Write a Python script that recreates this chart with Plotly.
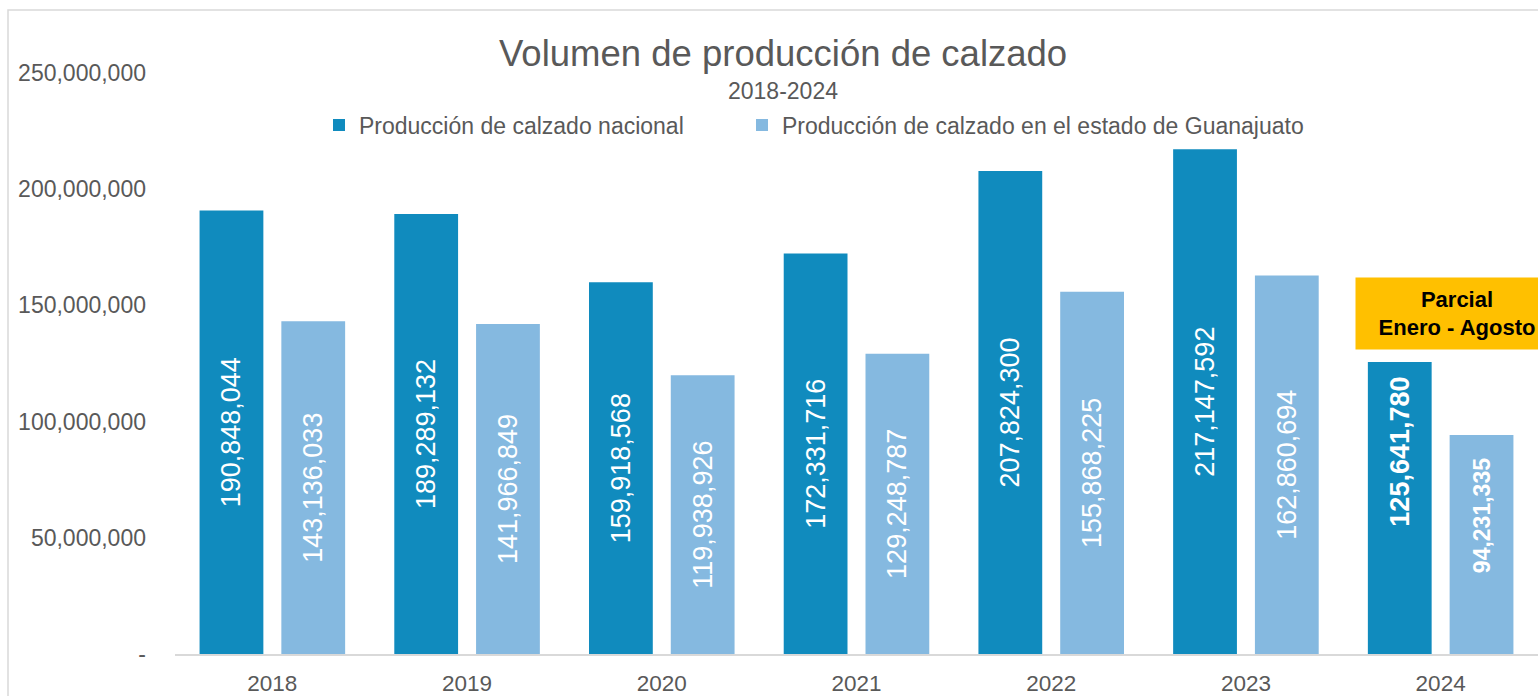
import plotly.graph_objects as go

years = ["2018", "2019", "2020", "2021", "2022", "2023", "2024"]
nacional = [190848044, 189289132, 159918568, 172331716, 207824300, 217147592, 125641780]
guanajuato = [143136033, 141966849, 119938926, 129248787, 155868225, 162860694, 94231335]
y_tickvals = [0, 50000000, 100000000, 150000000, 200000000, 250000000]
y_ticktext = ["-", "50,000,000", "100,000,000", "150,000,000", "200,000,000", "250,000,000"]

name_nac = "Producción de calzado nacional"
name_gto = "Producción de calzado en el estado de Guanajuato"

DARK = "#108BBE"
LIGHT = "#85B9E0"
GRAY = "#595959"
FONT = "Liberation Sans"

def fmt(v):
    return f"{v:,}"

# last category (partial year) labelled separately near the bar top
pos = ["inside"] * (len(years) - 1) + ["none"]
last = len(years) - 1

fig = go.Figure()
fig.add_trace(go.Bar(
    x=years, y=nacional, name=name_nac, marker=dict(color=DARK, line=dict(width=0)),
    text=[fmt(v) for v in nacional], textposition=pos, insidetextanchor="middle",
    textangle=-90, textfont=dict(color="white", size=27, family=FONT),
    hoverinfo="skip", legend="legend",
))
fig.add_trace(go.Bar(
    x=years, y=guanajuato, name=name_gto, marker=dict(color=LIGHT, line=dict(width=0)),
    text=[fmt(v) for v in guanajuato], textposition=pos, insidetextanchor="middle",
    textangle=-90, textfont=dict(color="white", size=27, family=FONT),
    hoverinfo="skip", legend="legend2",
))

annotations = [
    dict(text="Volumen de producción de calzado", xref="paper", yref="paper",
         x=(783 - 175) / 1363, y=(654 - 54) / 581, xanchor="center", yanchor="middle",
         showarrow=False, font=dict(size=36.5, color=GRAY, family=FONT)),
    dict(text="2018-2024", xref="paper", yref="paper",
         x=(783 - 175) / 1363, y=(654 - 91) / 581, xanchor="center", yanchor="middle",
         showarrow=False, font=dict(size=23, color=GRAY, family=FONT)),
    dict(text="<b>" + fmt(nacional[-1]) + "</b>", x=last, y=nacional[-1],
         xref="x", yref="y", xshift=-41, yshift=-13, xanchor="center", yanchor="top",
         textangle=-90, showarrow=False, font=dict(size=27, color="white", family=FONT)),
    dict(text="<b>" + fmt(guanajuato[-1]) + "</b>", x=last, y=guanajuato[-1],
         xref="x", yref="y", xshift=41, yshift=-21, xanchor="center", yanchor="top",
         textangle=-90, showarrow=False, font=dict(size=23, color="white", family=FONT)),
    dict(text="<b>Parcial<br>Enero - Agosto</b>", xref="paper", yref="paper",
         x=(1355 - 175) / 1363, y=(654 - 277) / 581, xanchor="left", yanchor="top",
         showarrow=False, bgcolor="#FFC000", width=190, height=59, borderpad=6,
         align="center", valign="middle", font=dict(size=22, color="black", family=FONT)),
]

legend_common = dict(orientation="h", xanchor="left", yanchor="middle",
                     y=(654 - 125) / 581,
                     font=dict(size=23, color=GRAY, family=FONT),
                     bgcolor="rgba(0,0,0,0)")

fig.update_layout(
    width=1538, height=696,
    margin=dict(l=175, r=0, t=73, b=42),
    paper_bgcolor="white", plot_bgcolor="white",
    barmode="group", bargap=0.16, bargroupgap=0.22,
    font=dict(family=FONT, color=GRAY),
    showlegend=True,
    legend=dict(x=(319 - 175) / 1363, **legend_common),
    legend2=dict(x=(742 - 175) / 1363, **legend_common),
    xaxis=dict(type="category", range=[-0.5, len(years) - 0.5],
               showline=True, linecolor="#D9D9D9", linewidth=2,
               ticks="", showgrid=False, zeroline=False,
               tickfont=dict(size=22.5, color=GRAY, family=FONT), ticklabelstandoff=8),
    yaxis=dict(range=[0, 250000000], tickvals=y_tickvals, ticktext=y_ticktext,
               showgrid=False, zeroline=False, showline=False, ticks="",
               tickfont=dict(size=23, color=GRAY, family=FONT), ticklabelstandoff=28),
    annotations=annotations,
    shapes=[dict(type="rect", xref="paper", yref="paper",
                 x0=(8 - 175) / 1363, x1=1.3, y0=-0.3, y1=(654 - 10) / 581,
                 line=dict(color="#D9D9D9", width=1.5), fillcolor="rgba(0,0,0,0)",
                 layer="below")],
)

fig.write_html(
    "out.html",
    config={"displayModeBar": False},
    post_script="document.body.style.margin='0';document.body.style.overflow='hidden';",
)
